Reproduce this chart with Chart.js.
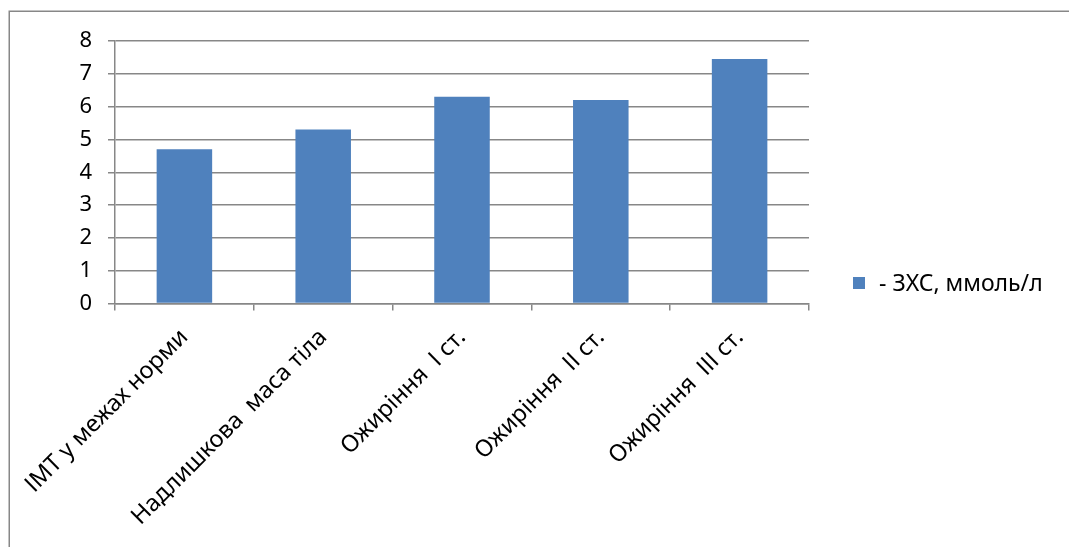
<!DOCTYPE html>
<html>
<head>
<meta charset="utf-8">
<script src="https://cdn.jsdelivr.net/npm/chart.js@4/dist/chart.umd.min.js"></script>
<style>
  html, body { margin: 0; padding: 0; background: #fff; }
  canvas { display: block; }
</style>
</head>
<body>
<canvas id="c" width="1069" height="547"></canvas>
<script>
// BMI groups and mean total cholesterol (mmol/l)
const categories = [
  'ІМТ у межах норми',
  'Надлишкова  маса тіла',
  'Ожиріння  І ст.',
  'Ожиріння  ІІ ст.',
  'Ожиріння  ІІІ ст.'
];
const cholesterol = [4.7, 5.3, 6.3, 6.2, 7.45];
const seriesLabel = '- ЗХС, ммоль/л';
const yMin = 0;
const yMax = 8;
const yStep = 1;

const FONT = '"Noto Sans", "DejaVu Sans", sans-serif';
const GRID = '#878787';
const BAR = '#4F81BD';

// Frame around the chart and a legend placed at the right
const framePlugin = {
  id: 'frameAndLegend',
  afterDraw(chart) {
    const ctx = chart.ctx;
    ctx.save();
    ctx.strokeStyle = GRID;
    ctx.lineWidth = 1.5;
    ctx.beginPath();
    ctx.moveTo(9.25, chart.height + 2);
    ctx.lineTo(9.25, 11.25);
    ctx.lineTo(chart.width + 2, 11.25);
    ctx.stroke();

    const ds = chart.data.datasets[0];
    ctx.fillStyle = ds.backgroundColor;
    ctx.fillRect(853, 277, 12, 12);
    ctx.fillStyle = '#000';
    ctx.font = '23px ' + FONT;
    ctx.textBaseline = 'middle';
    ctx.textAlign = 'left';
    ctx.fillText(ds.label, 879, 284);
    ctx.restore();
  }
};

new Chart(document.getElementById('c'), {
  type: 'bar',
  data: {
    labels: categories,
    datasets: [{
      label: seriesLabel,
      data: cholesterol,
      backgroundColor: BAR,
      borderWidth: 0,
      barPercentage: 0.4,
      categoryPercentage: 1.0
    }]
  },
  options: {
    responsive: false,
    animation: false,
    layout: { padding: { left: 60, right: 260, top: 41, bottom: 0 } },
    plugins: {
      legend: { display: false },
      tooltip: { enabled: false }
    },
    scales: {
      y: {
        min: yMin,
        max: yMax,
        afterFit(scale) { scale.width = 55; },
        ticks: {
          stepSize: yStep,
          padding: 16,
          color: '#000',
          font: { family: FONT, size: 22 }
        },
        grid: { color: GRID, lineWidth: 1.5, tickLength: 7 },
        border: { color: GRID, width: 1.5 }
      },
      x: {
        offset: true,
        afterFit(scale) { scale.height = 243.5; },
        ticks: {
          maxRotation: 45,
          minRotation: 45,
          padding: 13,
          autoSkip: false,
          color: '#000',
          font: { family: FONT, size: 23.5 }
        },
        grid: {
          offset: true,
          drawOnChartArea: false,
          color: GRID,
          lineWidth: 1.5,
          tickLength: 7
        },
        border: { color: GRID, width: 1.5 }
      }
    }
  },
  plugins: [framePlugin]
});
</script>
</body>
</html>
